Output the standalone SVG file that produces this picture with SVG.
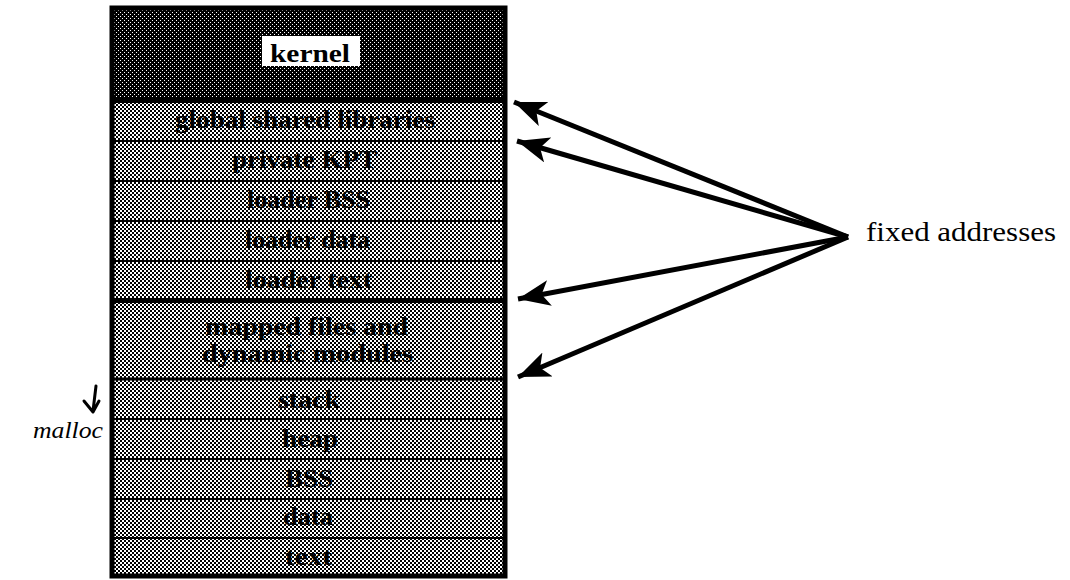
<svg xmlns="http://www.w3.org/2000/svg" width="1070" height="580" viewBox="0 0 1070 580">
<style>
.lbl{font-family:"Liberation Serif","Times New Roman",serif;font-weight:bold;font-size:26px;fill:#000}
.sep{stroke:#000;stroke-width:2}
.sepb{stroke:#000;stroke-width:5}
.conn{stroke:#000;stroke-width:5;fill:none;marker-end:url(#ah)}
.note{font-family:"Liberation Serif","Times New Roman",serif;font-size:28px;fill:#000}
.hand{font-family:"Liberation Serif",serif;font-style:italic;font-size:24px;fill:#000}
</style>
<defs>
<pattern id="light" width="4" height="4" patternUnits="userSpaceOnUse">
<rect width="4" height="4" fill="#fff"/>
<rect x="0" y="0" width="2" height="2" fill="#000"/>
<rect x="2" y="2" width="2" height="2" fill="#000"/>
</pattern>
<pattern id="dark" width="4" height="4" patternUnits="userSpaceOnUse">
<rect width="4" height="4" fill="#000"/>
<rect x="0" y="0" width="1" height="1" fill="#fff"/>
<rect x="2" y="2" width="1" height="1" fill="#fff"/>
</pattern>
<marker id="ah" markerUnits="userSpaceOnUse" markerWidth="34" markerHeight="26" refX="32" refY="13" orient="auto">
<path d="M0,0 L32,13 L0,26 L8,13 z" fill="#000"/>
</marker>
</defs>
<rect x="0" y="0" width="1070" height="580" fill="#fff"/>
<g id="memory-map">
<rect x="112" y="8" width="393" height="92" fill="url(#dark)"/>
<rect x="112" y="100" width="393" height="476" fill="url(#light)"/>
<g id="kernel">
<rect x="262" y="36" width="98" height="30" fill="#fff"/>
<text class="lbl" x="270" y="62" textLength="80" lengthAdjust="spacingAndGlyphs">kernel</text>
</g>
<g id="global-shared-libraries"><text class="lbl" x="175" y="128" textLength="260" lengthAdjust="spacingAndGlyphs">global shared libraries</text></g>
<g id="private-kpt"><text class="lbl" x="232" y="168" textLength="145" lengthAdjust="spacingAndGlyphs">private KPT</text></g>
<g id="loader-bss"><text class="lbl" x="247" y="208" textLength="123" lengthAdjust="spacingAndGlyphs">loader BSS</text></g>
<g id="loader-data"><text class="lbl" x="245" y="248" textLength="125" lengthAdjust="spacingAndGlyphs">loader data</text></g>
<g id="loader-text"><text class="lbl" x="245" y="288" textLength="127" lengthAdjust="spacingAndGlyphs">loader text</text></g>
<g id="mapped-files"><text class="lbl" x="205" y="335" textLength="203" lengthAdjust="spacingAndGlyphs">mapped files and</text><text class="lbl" x="202" y="362" textLength="211" lengthAdjust="spacingAndGlyphs">dynamic modules</text></g>
<g id="stack"><text class="lbl" x="278" y="408" textLength="62" lengthAdjust="spacingAndGlyphs">stack</text></g>
<g id="heap"><text class="lbl" x="282" y="447" textLength="56" lengthAdjust="spacingAndGlyphs">heap</text></g>
<g id="bss"><text class="lbl" x="285" y="487" textLength="48" lengthAdjust="spacingAndGlyphs">BSS</text></g>
<g id="data"><text class="lbl" x="283" y="525" textLength="50" lengthAdjust="spacingAndGlyphs">data</text></g>
<g id="text-seg"><text class="lbl" x="285" y="565" textLength="47" lengthAdjust="spacingAndGlyphs">text</text></g>
<line class="sepb" x1="112" y1="100.5" x2="505" y2="100.5"/>
<line class="sep" x1="112" y1="141" x2="505" y2="141"/>
<line class="sep" x1="112" y1="181" x2="505" y2="181"/>
<line class="sep" x1="112" y1="221" x2="505" y2="221"/>
<line class="sep" x1="112" y1="261" x2="505" y2="261"/>
<line class="sepb" x1="112" y1="300.5" x2="505" y2="300.5"/>
<line class="sep" x1="112" y1="379" x2="505" y2="379" style="stroke-width:3"/>
<line class="sep" x1="112" y1="419" x2="505" y2="419"/>
<line class="sep" x1="112" y1="459" x2="505" y2="459"/>
<line class="sep" x1="112" y1="499" x2="505" y2="499"/>
<line class="sep" x1="112" y1="538" x2="505" y2="538"/>
<rect x="112" y="8" width="393" height="568" fill="none" stroke="#000" stroke-width="5"/>
</g>
<g id="fixed-addresses"><text class="note" x="866" y="241" textLength="190" lengthAdjust="spacingAndGlyphs">fixed addresses</text></g>
<g id="malloc-note">
<path d="M96,386 L93,411 M84,401 L93,412 L99,401" stroke="#000" stroke-width="3" fill="none" stroke-linecap="round" stroke-linejoin="round"/>
<text class="hand" x="33" y="438" textLength="70" lengthAdjust="spacingAndGlyphs">malloc</text>
</g>
<g id="connectors">
<line class="conn" x1="848" y1="237" x2="514" y2="102"/>
<line class="conn" x1="848" y1="237" x2="517" y2="141"/>
<line class="conn" x1="848" y1="237" x2="518" y2="299"/>
<line class="conn" x1="848" y1="237" x2="518" y2="377"/>
</g>
</svg>
